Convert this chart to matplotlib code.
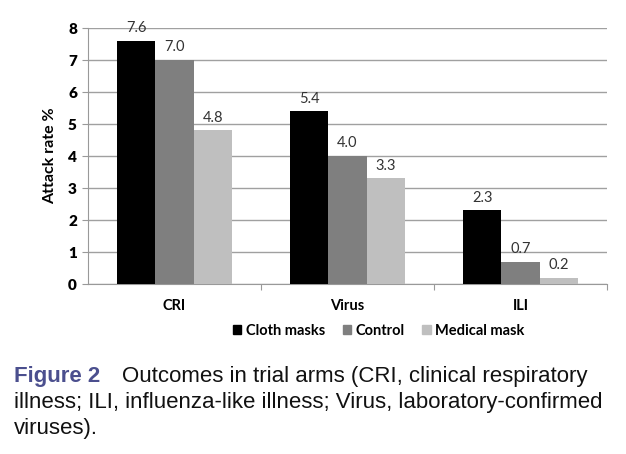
import numpy as np
import matplotlib
matplotlib.use("Agg")
import matplotlib.pyplot as plt
from matplotlib.patches import Patch

# values
categories = ["CRI", "Virus", "ILI"]
cloth = [7.6, 5.4, 2.3]
control = [7.0, 4.0, 0.7]
medical = [4.8, 3.3, 0.2]
series_names = ["Cloth masks", "Control", "Medical mask"]
colors = ["#000000", "#7f7f7f", "#bfbfbf"]

plt.rcParams["font.family"] = ["Lato", "DejaVu Sans"]

fig = plt.figure(figsize=(6.26, 4.54), dpi=100)
ax = fig.add_axes([0.1406, 0.3744, 0.829, 0.5639])

x = np.arange(len(categories))
w = 0.22
for i, (vals, name, c) in enumerate(zip([cloth, control, medical], series_names, colors)):
    bars = ax.bar(x + (i - 1) * w, vals, w, color=c, label=name, zorder=3)
    for b, v in zip(bars, vals):
        ax.annotate(f"{v:.1f}", (b.get_x() + b.get_width() / 2, v),
                    xytext=(0, 4), textcoords="offset points",
                    ha="center", va="bottom", fontsize=10.5, color="#333333")

ax.set_xlim(-0.5, 2.5)
ax.set_ylim(0, 8)
ax.set_yticks(range(0, 9))
ax.yaxis.grid(True, color="#a0a0a0", linewidth=1, zorder=0)
ax.set_xticks([0.5, 1.5, 2.5], minor=False)
ax.set_xticklabels([])
ax.set_xticks(x, minor=True)
ax.set_xticklabels(categories, minor=True, fontweight="bold", fontsize=10.5)
ax.tick_params(axis="x", which="minor", length=0, pad=11)
ax.tick_params(axis="x", which="major", length=4, color="#999999")
ax.tick_params(axis="y", length=4, color="#999999", labelsize=11, pad=4)
for lab in ax.get_yticklabels():
    lab.set_fontweight("heavy")
ax.set_ylabel("Attack rate %", fontweight="bold", fontsize=11.5, labelpad=8)
for s in ["top", "right"]:
    ax.spines[s].set_visible(False)
for s in ["left", "bottom"]:
    ax.spines[s].set_color("#999999")

handles = [Patch(color=c) for c in colors]
fig.legend(handles, series_names, loc="center", bbox_to_anchor=(0.605, 0.272),
           ncol=3, frameon=False, handlelength=0.6, handleheight=0.6,
           handletextpad=0.3, columnspacing=1.2,
           prop={"weight": "bold", "size": 10.5})

cap = {"family": ["Liberation Sans", "DejaVu Sans"], "fontsize": 16, "va": "baseline"}
fig.text(0.022, 0.1586, "Figure 2", color="#4b4f8e", fontweight="bold", **cap)
fig.text(0.195, 0.1586, "Outcomes in trial arms (CRI, clinical respiratory", color="#111111", **cap)
fig.text(0.022, 0.1013, "illness; ILI, influenza-like illness; Virus, laboratory-confirmed", color="#111111", **cap)
fig.text(0.022, 0.0441, "viruses).", color="#111111", **cap)

fig.savefig("out.png", dpi=100)
